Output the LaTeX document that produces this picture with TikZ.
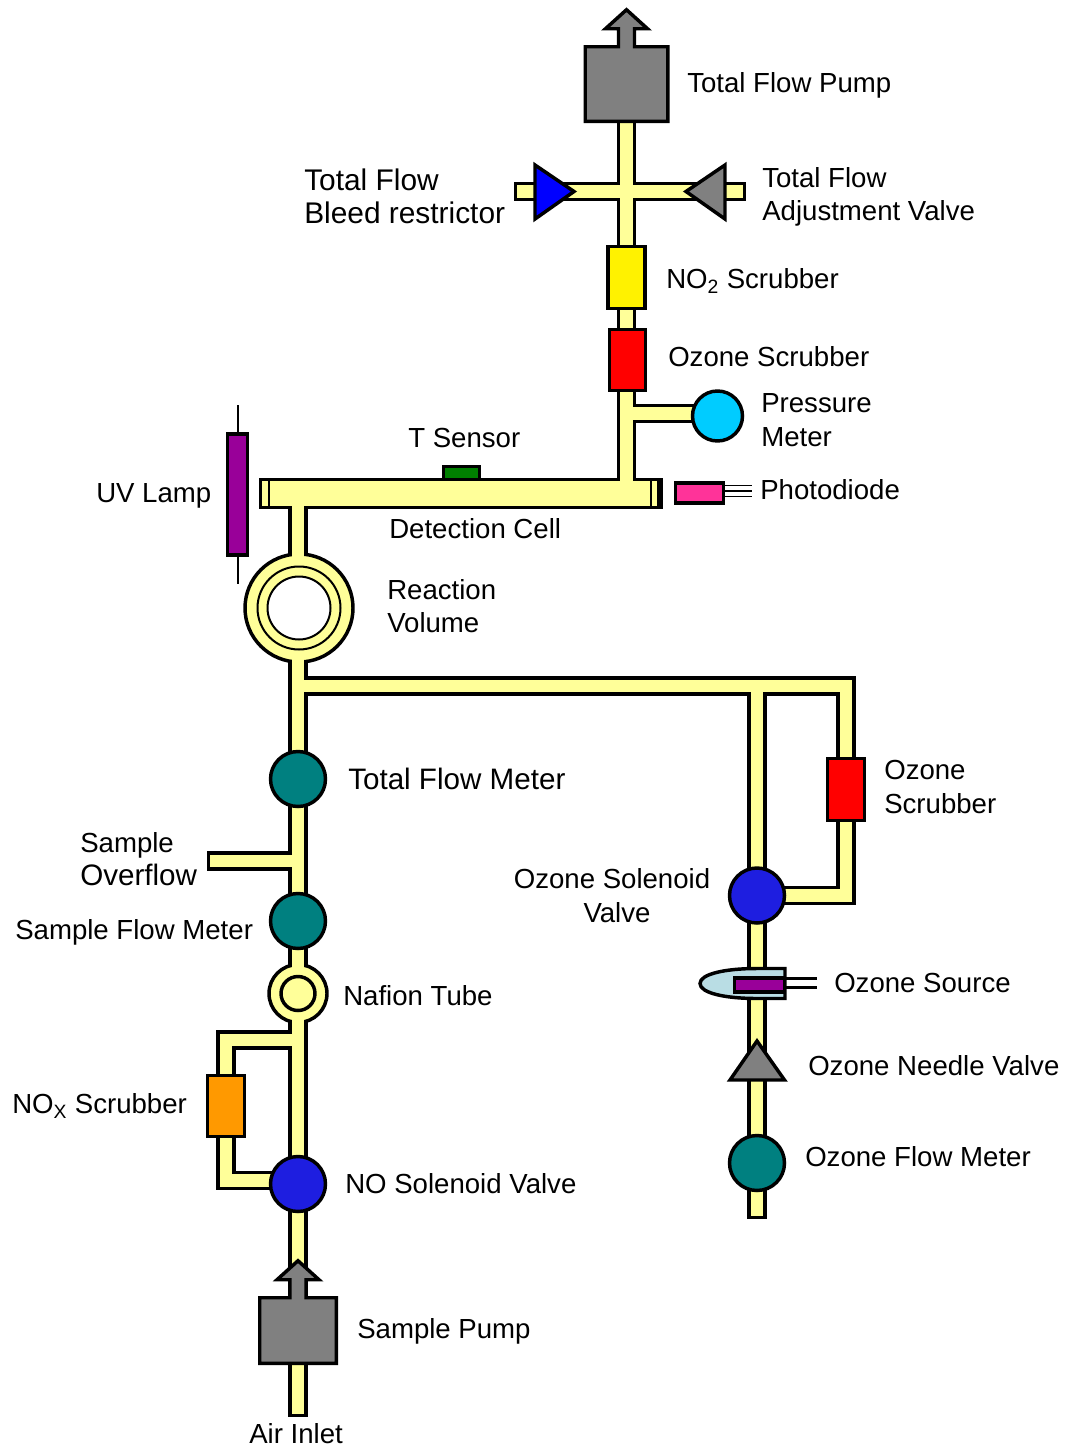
\documentclass[tikz,border=0pt]{standalone}
\usepackage{fontspec}
\setmainfont{Liberation Sans}
\usetikzlibrary{backgrounds}
\definecolor{tubeyellow}{HTML}{FFFF99}
\definecolor{pumpgray}{HTML}{808080}
\definecolor{meterteal}{HTML}{008080}
\definecolor{valveblue}{HTML}{1E1EE0}
\definecolor{lamppurple}{HTML}{990099}
\definecolor{sourceblue}{HTML}{B9DDE4}
\definecolor{metercyan}{HTML}{00CCFF}
\definecolor{diodepink}{HTML}{FF3399}
\definecolor{noxorange}{HTML}{FF9900}
\tikzset{
    unit/.style={draw=black, line width=2.6pt, line join=miter},
    boxsize/.style 2 args={minimum width=#1*.75pt, minimum height=#2*.75pt, inner sep=0pt},
    disc/.style={circle, unit, minimum size=#1*.75pt, inner sep=0pt},
    tubeedge/.style={draw=black, line width=14.4pt, line join=miter},
    tubecore/.style={draw=tubeyellow, line width=9.6pt, line join=miter, shorten >=2.4pt},
    tubejoin/.style={draw=tubeyellow, line width=9.6pt},
    lbl/.style={anchor=west, inner sep=0pt, align=left, font=\fontsize{20.7}{25}\selectfont},
}
\begin{document}
\begin{tikzpicture}[x=.75pt, y=-.75pt]
    \useasboundingbox (0,0) rectangle (1065,1449);

    % Pumps
    \node[boxsize={82}{74}, fill=pumpgray] (totalpump) at (626.5,84) {};
    \node[boxsize={76}{65}, fill=pumpgray] (samplepump) at (298,1330.5) {};
    \foreach \pumpname in {totalpump,samplepump}
        \draw[unit, fill=pumpgray] (\pumpname.south west) -- (\pumpname.north west)
            -- ([xshift=-6pt]\pumpname.north) -- ++(0,-18) -- ++(-13,0) -- ++(21,-19)
            -- ++(21,19) -- ++(-13,0) -- ++(0,18) -- (\pumpname.north east)
            -- (\pumpname.south east) -- cycle;

    % Scrubbers
    \node[unit, boxsize={37}{62}, fill=yellow] (notwoscrubber) at (626.5,277.5) {};
    \node[unit, boxsize={36}{61}, fill=red] (ozonescrubbertop) at (627.5,360) {};
    \node[unit, boxsize={37}{62}, fill=red] (ozonescrubberside) at (846,789.5) {};
    \node[unit, boxsize={37}{61}, fill=noxorange] (noxscrubber) at (226,1106) {};

    % Meters and valves
    \node[disc=50, fill=metercyan] (pressuremeter) at (717.5,416) {};
    \node[disc=55, fill=meterteal] (totalflowmeter) at (298,779) {};
    \node[disc=55, fill=meterteal] (sampleflowmeter) at (298,921) {};
    \node[disc=55, fill=meterteal] (ozoneflowmeter) at (757,1163) {};
    \node[disc=55, fill=valveblue] (nosolenoid) at (298,1184) {};
    \node[disc=55, fill=valveblue] (ozonesolenoid) at (757,895.5) {};
    \draw[unit, fill=blue] (535,165) -- (535,219) -- (574,191.5) -- cycle;
    \draw[unit, fill=pumpgray] (725,165) -- (725,219) -- (686,191.5) -- cycle;
    \draw[unit, fill=pumpgray] (757,1041) -- (730,1080) -- (784.5,1080) -- cycle;

    % Detection cell
    \node[unit, boxsize={401}{28}, fill=tubeyellow] (detectioncell) at (461,493.5) {};
    \draw[line width=1.6pt] (269,480) -- (269,507);
    \draw[line width=1.6pt] (651,480) -- (651,507);
    \draw[line width=3.6pt] (659,480) -- (659,507);
    \node[unit, boxsize={36}{13}, fill=green!50!black] (tsensor) at (461.5,473) {};

    % Reaction volume and Nafion tube
    \node[disc=108, fill=tubeyellow] (reactionvolume) at (299,608) {};
    \node[disc=83, line width=1.5pt, fill=tubeyellow] (reactionring) at (299,608) {};
    \node[disc=63, line width=1.5pt, fill=white] (reactionhole) at (299,608) {};
    \node[disc=58, fill=tubeyellow] (nafiontube) at (298,993.5) {};
    \node[disc=34, fill=tubeyellow] (nafionring) at (298,993.5) {};

    % Lamps and diode
    \draw[line width=1.8pt] (238,405) -- (238,584);
    \node[unit, boxsize={20}{121}, fill=lamppurple] (uvlamp) at (237.5,494.5) {};
    \draw[line width=1.3pt] (725,485.5) -- (752,485.5);
    \draw[line width=1.3pt] (725,491) -- (752,491);
    \draw[line width=1.3pt] (725,496.5) -- (752,496.5);
    \node[unit, boxsize={48}{20}, fill=diodepink] (photodiode) at (699.5,493) {};
    \draw[unit, fill=sourceblue] (785,968.5) -- (757,968.5)
        .. controls (725,968.5) and (700,974) .. (700,983.5)
        .. controls (700,993) and (725,998.5) .. (757,998.5) -- (785,998.5) -- cycle;
    \draw[line width=1.9pt] (785,978.5) -- (817,978.5);
    \draw[line width=1.9pt] (785,987.5) -- (817,987.5);
    \node[unit, boxsize={50}{14}, fill=lamppurple] (ozonelamp) at (759.5,985) {};

    % Open ends and branch points
    \coordinate (bleedend) at (514,191.5);
    \coordinate (adjustend) at (746,191.5);
    \coordinate (crossing) at (626.5,191.5);
    \coordinate (celltop) at (626.5,493);
    \coordinate (pressurejoin) at (626.5,413.5);
    \coordinate (pressuretap) at (700,413.5);
    \coordinate (cellbottom) at (298,493);
    \coordinate (ozonesplit) at (298,686);
    \coordinate (ozonebranch) at (757,686);
    \coordinate (ozoneend) at (757,1219);
    \coordinate (overflowjoin) at (298,861);
    \coordinate (overflowend) at (207,861);
    \coordinate (noxtop) at (298,1040);
    \coordinate (noxbottom) at (298,1180.5);
    \coordinate (airinlet) at (298,1417);

    % Tubes
    \begin{scope}[on background layer]
        \foreach \tubelayer in {tubeedge,tubecore} {
            \draw[\tubelayer] (crossing) -- (bleedend);
            \draw[\tubelayer] (crossing) -- (adjustend);
            \draw[\tubelayer] (totalpump.center) -- (celltop);
            \draw[\tubelayer] (pressurejoin) -- (pressuretap);
            \draw[\tubelayer] (cellbottom) -- (ozonesplit) -- (nosolenoid.center);
            \draw[\tubelayer] (nosolenoid.center) -- (airinlet);
            \draw[\tubelayer] (overflowjoin) -- (overflowend);
            \draw[\tubelayer] (ozonesplit) -- (ozonebranch) -- (ozoneend);
            \draw[\tubelayer] (ozonebranch) -| (ozonescrubberside.center) |- (ozonesolenoid.center);
            \draw[\tubelayer] (noxtop) -| (noxscrubber.center) |- (noxbottom);
        }
    \end{scope}

    % Tube openings
    \draw[tubejoin] (626.5,474) -- (626.5,486);
    \draw[tubejoin] (298,501) -- (298,513);
    \draw[tubejoin] (298,548) -- (298,560);
    \draw[tubejoin] (298,656) -- (298,668);
    \draw[tubejoin] (298,961) -- (298,971);
    \draw[tubejoin] (298,1016) -- (298,1026);

    % Labels
    \node[lbl] (totalpumplabel) at (687,85) {Total Flow Pump};
    \node[lbl, font=\fontsize{22.4}{25}\selectfont] (bleedlabel) at (304,196) {Total Flow\\Bleed restrictor};
    \node[lbl] (adjustlabel) at (762,197) {Total Flow\\Adjustment Valve};
    \node[lbl] (notwolabel) at (666,281) {NO\textsubscript{2} Scrubber};
    \node[lbl] (ozonetoplabel) at (668,357) {Ozone Scrubber};
    \node[lbl] (pressurelabel) at (761,420) {Pressure\\Meter};
    \node[lbl] (tsensorlabel) at (408,438) {T Sensor};
    \node[lbl] (uvlamplabel) at (96,496) {UV Lamp};
    \node[lbl] (photodiodelabel) at (760,490) {Photodiode};
    \node[lbl] (celllabel) at (389,529) {Detection Cell};
    \node[lbl] (reactionlabel) at (387,606) {Reaction\\Volume};
    \node[lbl, font=\fontsize{22.2}{25}\selectfont] (totalmeterlabel) at (348,779) {Total Flow Meter};
    \node[lbl] (ozonesidelabel) at (884,787) {Ozone\\Scrubber};
    \node[lbl] (overflowlabel) at (80,859) {Sample\\{\fontsize{22.2}{25}\selectfont Overflow}};
    \node[lbl, anchor=center, align=center] (ozonevalvelabel) at (612,895.5) {Ozone Solenoid\\\hspace*{7.5pt}Valve};
    \node[lbl] (samplemeterlabel) at (15,932) {Sample Flow Meter};
    \node[lbl] (ozonesourcelabel) at (834,983) {Ozone Source};
    \node[lbl] (nafionlabel) at (343,996) {Nafion Tube};
    \node[lbl] (needlelabel) at (808,1066) {Ozone Needle Valve};
    \node[lbl] (noxlabel) at (12,1106) {NO\textsubscript{X} Scrubber};
    \node[lbl] (novalvelabel) at (345,1184) {NO Solenoid Valve};
    \node[lbl] (ozonemeterlabel) at (805,1157) {Ozone Flow Meter};
    \node[lbl] (samplepumplabel) at (357,1331) {Sample Pump};
    \node[lbl] (airinletlabel) at (249,1434) {Air Inlet};
\end{tikzpicture}
\end{document}
